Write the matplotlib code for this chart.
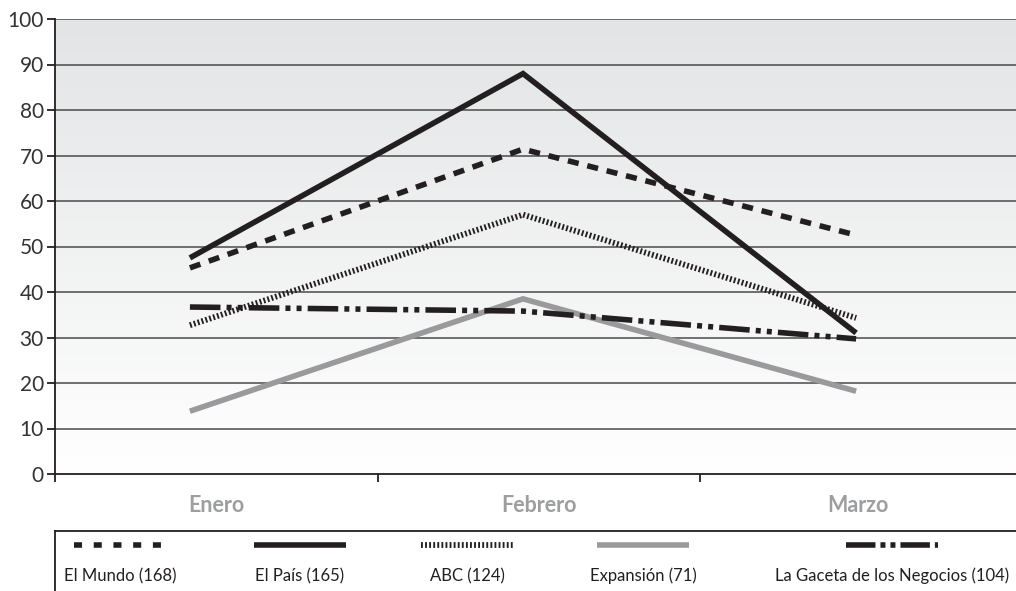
import matplotlib
matplotlib.use("Agg")
import matplotlib.pyplot as plt
import numpy as np
from matplotlib.colors import LinearSegmentedColormap

# ---------------------------------------------------------------------------
# Data
# ---------------------------------------------------------------------------
months = ["Enero", "Febrero", "Marzo"]
el_mundo = [45.3, 71.4, 52.5]
el_pais = [47.5, 88.0, 31.0]
abc = [32.7, 57.0, 34.3]
expansion = [13.8, 38.5, 18.2]
gaceta = [36.7, 35.8, 29.7]

series_labels = ["El Mundo (168)", "El País (165)", "ABC (124)",
                 "Expansión (71)", "La Gaceta de los Negocios (104)"]
y_ticks = [0, 10, 20, 30, 40, 50, 60, 70, 80, 90, 100]

# ---------------------------------------------------------------------------
# Style
# ---------------------------------------------------------------------------
DARK = "#231f20"
GRAY = "#9a9a9c"
LABEL_GRAY = "#9d9ea0"
GRID = "#4a4a4a"

plt.rcParams["font.family"] = ["Lato", "DejaVu Sans"]

styles = [
    dict(color=DARK, lw=4.0, dashes=(2.0, 1.6)),                      # El Mundo
    dict(color=DARK, lw=4.0),                                          # El País
    dict(color=DARK, lw=4.2, dashes=(0.32, 0.38)),                    # ABC
    dict(color=GRAY, lw=4.0),                                          # Expansión
    dict(color=DARK, lw=4.0, dashes=(5.5, 1.1, 0.9, 1.1, 0.9, 1.1)),  # Gaceta
]
series = [el_mundo, el_pais, abc, expansion, gaceta]

fig = plt.figure(figsize=(10.16, 5.91), dpi=100)
ax = fig.add_axes([55 / 1016, 1 - 474 / 591, 1 - 55 / 1016, (474 - 19) / 591])

x = np.arange(len(months))
xmin, xmax = -0.405, 2.48
ax.set_xlim(xmin, xmax)
ax.set_ylim(0, 100)

# gradient background
cmap = LinearSegmentedColormap.from_list("bg", ["#ffffff", "#e3e4e5"])
grad = np.linspace(0, 1, 256).reshape(-1, 1)
ax.imshow(grad, cmap=cmap, origin="lower", aspect="auto",
          extent=[xmin, xmax, 0, 100], zorder=0)

for yv in y_ticks[1:]:
    ax.axhline(yv, color=GRID, lw=1.1, zorder=1)

for vals, st in zip(series, styles):
    kw = dict(color=st["color"], lw=st["lw"], solid_capstyle="butt",
              dash_capstyle="butt", solid_joinstyle="miter", zorder=3)
    if "dashes" in st:
        kw["dashes"] = st["dashes"]
    ax.plot(x, vals, **kw)

ax.set_xlim(xmin, xmax)
ax.set_ylim(0, 100)

for s in ["top", "right"]:
    ax.spines[s].set_visible(False)
for s in ["left", "bottom"]:
    ax.spines[s].set_color(DARK)
    ax.spines[s].set_linewidth(1.3)

ax.set_yticks(y_ticks)
ax.set_yticklabels([str(v) for v in y_ticks], fontsize=15, color="#333333")
ax.tick_params(axis="y", length=6, width=1.3, color=DARK, pad=2)

bounds = [xmin, 0.565, 1.53]
ax.set_xticks(bounds)
ax.set_xticklabels([])
ax.tick_params(axis="x", length=6, width=1.3, color=DARK)
centers = [0.08, 1.048, 2.005]
ax.set_xticks(centers, minor=True)
ax.set_xticklabels(months, minor=True, fontsize=15.5, fontweight="bold",
                   color=LABEL_GRAY)
ax.tick_params(axis="x", which="minor", length=0, pad=15)

# ---------------------------------------------------------------------------
# Legend box
# ---------------------------------------------------------------------------
lax = fig.add_axes([55 / 1016, 0, 1 - 55 / 1016, 60 / 591])
lax.set_xlim(0, 1)
lax.set_ylim(0, 1)
lax.set_xticks([])
lax.set_yticks([])
for s in ["right", "bottom"]:
    lax.spines[s].set_visible(False)
for s in ["top", "left"]:
    lax.spines[s].set_color(DARK)
    lax.spines[s].set_linewidth(1.3)

leg_centers = [0.068, 0.255, 0.429, 0.612, 0.871]
leg_dashes = [(1.45, 2.1), None, (0.32, 0.38), None, (5.3, 0.9, 0.9, 0.9, 0.9, 0.9)]
half = 0.048
for cx, st, d, lab in zip(leg_centers, styles, leg_dashes, series_labels):
    kw = dict(color=st["color"], lw=st["lw"], solid_capstyle="butt",
              dash_capstyle="butt")
    if d is not None:
        kw["dashes"] = d
    lax.plot([cx - half, cx + half], [0.77, 0.77], **kw)
    lax.text(cx, 0.25, lab, ha="center", va="center", fontsize=12,
             color=DARK)

fig.savefig("out.png", dpi=100, facecolor="white")
